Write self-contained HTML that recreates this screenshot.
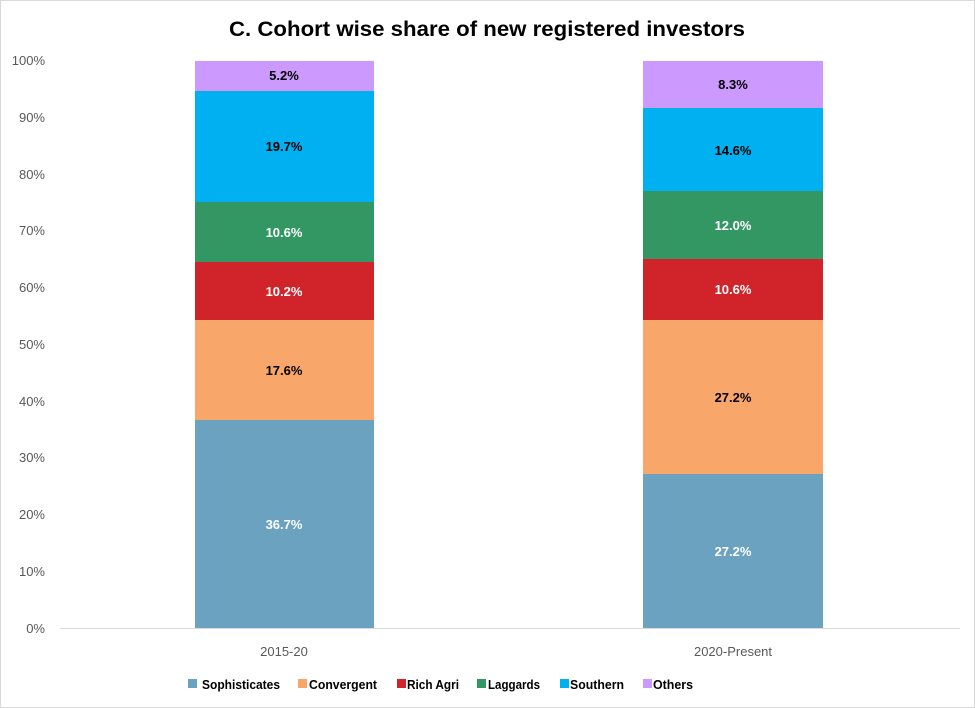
<!DOCTYPE html>
<html><head><meta charset="utf-8"><style>
html,body{margin:0;padding:0;background:#fff;}
svg{display:block;font-family:"Liberation Sans",sans-serif;}
</style></head><body>
<svg width="975" height="708" viewBox="0 0 975 708">
<rect x="0.5" y="0.5" width="974" height="707" fill="#fff" stroke="#d9d9d9"/>
<text x="229" y="36" font-size="21" font-weight="bold" fill="#000" textLength="516" lengthAdjust="spacingAndGlyphs">C. Cohort wise share of new registered investors</text>
<g font-size="13" fill="#595959" text-anchor="end">
<text x="45" y="633">0%</text><text x="45" y="576">10%</text><text x="45" y="519">20%</text><text x="45" y="462">30%</text><text x="45" y="406">40%</text><text x="45" y="349">50%</text><text x="45" y="292">60%</text><text x="45" y="235">70%</text><text x="45" y="179">80%</text><text x="45" y="122">90%</text><text x="45" y="65">100%</text>
</g>
<line x1="60" y1="628.5" x2="960" y2="628.5" stroke="#d9d9d9"/>
<rect x="195" y="420" width="179" height="208" fill="#6aa2c0"/>
<rect x="195" y="320" width="179" height="100" fill="#f9a66b"/>
<rect x="195" y="262" width="179" height="58" fill="#d0232a"/>
<rect x="195" y="202" width="179" height="60" fill="#339763"/>
<rect x="195" y="91" width="179" height="111" fill="#00b0f0"/>
<rect x="195" y="61" width="179" height="30" fill="#cc99ff"/>
<rect x="643" y="474" width="180" height="154" fill="#6aa2c0"/>
<rect x="643" y="320" width="180" height="154" fill="#f9a66b"/>
<rect x="643" y="259" width="180" height="61" fill="#d0232a"/>
<rect x="643" y="191" width="180" height="68" fill="#339763"/>
<rect x="643" y="108" width="180" height="83" fill="#00b0f0"/>
<rect x="643" y="61" width="180" height="47" fill="#cc99ff"/>
<g font-size="13" font-weight="bold" text-anchor="middle">
<text x="284" y="529" fill="#fff">36.7%</text>
<text x="284" y="375" fill="#000">17.6%</text>
<text x="284" y="296" fill="#fff">10.2%</text>
<text x="284" y="237" fill="#fff">10.6%</text>
<text x="284" y="151" fill="#000">19.7%</text>
<text x="284" y="80" fill="#000">5.2%</text>
<text x="733" y="556" fill="#fff">27.2%</text>
<text x="733" y="402" fill="#000">27.2%</text>
<text x="733" y="294" fill="#fff">10.6%</text>
<text x="733" y="230" fill="#fff">12.0%</text>
<text x="733" y="155" fill="#000">14.6%</text>
<text x="733" y="89" fill="#000">8.3%</text>
</g>
<g font-size="13" fill="#595959" text-anchor="middle">
<text x="284" y="656">2015-20</text>
<text x="733" y="656">2020-Present</text>
</g>
<g font-size="13" font-weight="bold" fill="#000" lengthAdjust="spacingAndGlyphs">
<rect x="188" y="679" width="9" height="9" fill="#6aa2c0"/><text x="202" y="689" textLength="78" lengthAdjust="spacingAndGlyphs">Sophisticates</text>
<rect x="298" y="679" width="9" height="9" fill="#f9a66b"/><text x="309" y="689" textLength="68" lengthAdjust="spacingAndGlyphs">Convergent</text>
<rect x="397" y="679" width="9" height="9" fill="#d0232a"/><text x="407" y="689" textLength="52" lengthAdjust="spacingAndGlyphs">Rich Agri</text>
<rect x="477" y="679" width="9" height="9" fill="#339763"/><text x="488" y="689" textLength="52" lengthAdjust="spacingAndGlyphs">Laggards</text>
<rect x="560" y="679" width="9" height="9" fill="#00b0f0"/><text x="570" y="689" textLength="54" lengthAdjust="spacingAndGlyphs">Southern</text>
<rect x="643" y="679" width="9" height="9" fill="#cc99ff"/><text x="653" y="689" textLength="40" lengthAdjust="spacingAndGlyphs">Others</text>
</g>
</svg>
</body></html>
